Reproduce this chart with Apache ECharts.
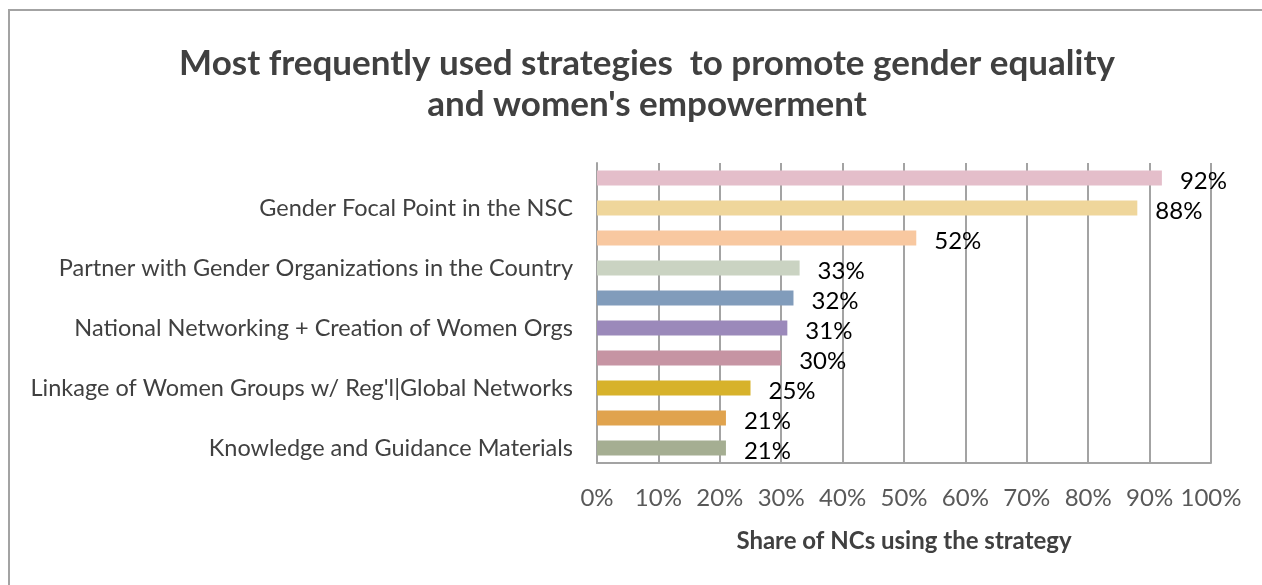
<!DOCTYPE html>
<html>
<head>
<meta charset="utf-8">
<script src="https://cdn.jsdelivr.net/npm/echarts@6/dist/echarts.min.js"></script>
<style>
  html, body { margin: 0; padding: 0; background: #ffffff; }
  #frame {
    position: absolute; left: 8px; top: 9px; width: 1270px; height: 600px;
    border-top: 2px solid #a3a3a3; border-left: 2px solid #a3a3a3;
    box-sizing: border-box;
  }
  #chart { position: absolute; left: 0; top: 0; width: 1262px; height: 585px; }
</style>
</head>
<body>
<div id="frame"></div>
<div id="chart"></div>
<script>
// Strategies, top to bottom; only every other one carries a printed name
const categories = [
  '',
  'Gender Focal Point in the NSC',
  '',
  'Partner with Gender Organizations in the Country',
  '',
  'National Networking + Creation of Women Orgs',
  '',
  "Linkage of Women Groups w/ Reg'l|Global Networks",
  '',
  'Knowledge and Guidance Materials'
];
// Share of NCs using each strategy (%)
const shares = [92, 88, 52, 33, 32, 31, 30, 25, 21, 21];
// Percent ticks along the value axis
const tickMin = 0, tickMax = 100, tickStep = 10;

// One fill per bar
const barColors = ['#E4BECA', '#EFD69B', '#F8C8A0', '#CAD3C2', '#819CBB',
                   '#9B89BA', '#C694A3', '#D7B22B', '#E0A34E', '#A5AE92'];

const font = 'Lato, "Open Sans", sans-serif';
const chart = echarts.init(document.getElementById('chart'), null, { renderer: 'canvas' });

chart.setOption({
  backgroundColor: 'transparent',
  animation: false,
  color: barColors,
  title: {
    text: "Most frequently used strategies  to promote gender equality\nand women's empowerment",
    left: 642, top: 38, textAlign: 'center',
    textStyle: { fontFamily: font, fontWeight: 'bold', fontSize: 35, color: '#404040', lineHeight: 41 }
  },
  grid: { left: 597, right: 51, top: 163, bottom: 122, containLabel: false },
  xAxis: {
    type: 'value', min: tickMin, max: tickMax, interval: tickStep,
    name: 'Share of NCs using the strategy',
    nameLocation: 'middle', nameGap: 66,
    nameTextStyle: { fontFamily: font, fontWeight: 'bold', fontSize: 24, color: '#404040' },
    axisLine: { show: true, lineStyle: { color: '#a3a3a3', width: 2 } },
    axisTick: { show: false },
    axisLabel: { formatter: '{value}%', margin: 23, fontFamily: font, fontSize: 24, color: '#595959' },
    splitLine: { show: true, lineStyle: { color: '#a3a3a3', width: 2 } }
  },
  yAxis: {
    type: 'category', data: categories, inverse: true,
    axisLine: { show: true, lineStyle: { color: '#a3a3a3', width: 2 } },
    axisTick: { show: false },
    axisLabel: { interval: 0, margin: 24, padding: [10, 0, 0, 0], fontFamily: font, fontSize: 23.5, color: '#404040' }
  },
  series: [{
    type: 'bar',
    data: shares,
    colorBy: 'data',
    barWidth: '50%',
    label: {
      show: true, position: 'right', distance: 18, offset: [0, 3],
      formatter: '{c}%', fontFamily: font, fontSize: 24, color: '#000000'
    }
  }]
});
</script>
</body>
</html>
